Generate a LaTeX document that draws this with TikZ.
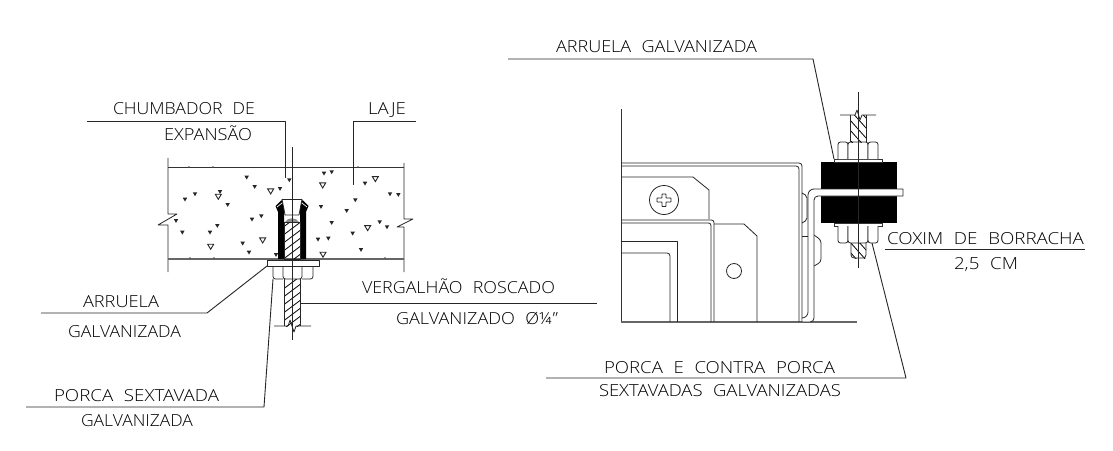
\documentclass[tikz,border=0pt]{standalone}
\usepackage{fontspec}
\usepackage{graphicx}
\setmainfont{Open Sans Light}[WordSpace=2.2]
\tikzset{
  lbl/.style={anchor=base west,inner sep=0pt,outer sep=0pt,text=black},
  leader/.style={line width=.9pt,draw=black!85,line join=round},
  part/.style={line width=.8pt,draw=black!85,line join=round},
  thin part/.style={line width=.6pt,draw=black!80},
  heavy/.style={line width=1.4pt,draw=black!60},
  hatchline/.style={line width=.8pt,draw=black}
}
\newcommand{\lb}[5]{% name, x0, x1, baseline, text
  \pgfmathsetmacro{\lbw}{#3-#2}
  \node[lbl] (#1) at (#2,#4) {\fontsize{16.6pt}{17pt}\selectfont\resizebox{\lbw pt}{\height}{#5}};}
\begin{document}
\begin{tikzpicture}[x=1pt,y=-1pt]
\useasboundingbox (0,0) rectangle (1113,450);
\fill[white] (0,0) rectangle (1113,450);

% ---------- LEFT: slab
\draw[part] (168,158) -- (168,214) -- (177,214) -- (158,225) -- (168,225) -- (168,272);
\draw[part] (404,163) -- (404,219) -- (413,219) -- (397,227) -- (404,227) -- (404,272);
\draw[thin part,line width=1pt] (168,167) -- (404,167);
\draw[heavy] (168,259) -- (404,259);
% aggregate
\foreach \x/\y in {320/262,344/290,420/296,448/270,552/250,575/246,675/280,135/328,165/312,240/305,263/344,108/392,127/427,210/427,232/407,308/460,327/487,336/388,364/378,408/494,543/350,646/330,620/362,575/398,534/448,565/445,638/430,719/396,741/411,663/479,750/312,775/314}
  \fill[black!85] ({140+\x/3-2.2},{90+\y/3-1.6}) -- ++(4.4,0) -- ++(-2.2,3.8) -- cycle;
\foreach \x/\y in {392/304,548/286,706/267,235/320,212/470,368/451,549/494,683/414}
  \draw[line width=.9pt,black!85] ({140+\x/3-3},{90+\y/3-2.4}) -- ++(6,0) -- ++(-3,5) -- cycle;
\foreach \x in {189,213,358} \fill[black!70] (\x,167) circle (.9);
\foreach \x in {190,214,385} \fill[black!70] (\x,258) circle (.9);

% anchor sleeve
\fill[black] (278,259) -- (278,212) -- (275.5,206) -- (281.5,200) -- (284,208) -- (284,259) -- cycle;
\fill[black] (306,259) -- (306,212) -- (308.5,206) -- (302.5,200) -- (300,208) -- (300,259) -- cycle;
\draw[white,line width=.7pt] (277,207) -- (282,203);
\draw[white,line width=.7pt] (307,207) -- (302,203);
\draw[part] (282,199) -- (302,199);
\draw[part] (282,199) -- (285,215) -- (299,215) -- (302,199);
% threaded rod inside
\begin{scope}
\clip (284,221) rectangle (300,259);
\foreach \k in {0,...,7} \draw[hatchline] (282,{228+\k*8}) -- (302,{213+\k*8});
\end{scope}
\fill[black!45] (285,222) .. controls (288,217) and (296,217) .. (299,222) -- cycle;
\draw[part] (284.5,222) rectangle (300,259);
% washer and nut
\draw[part,fill=white] (267,260) rectangle (319,266);
\draw[part] (273,266) [rounded corners=2.5pt] -- (273,279) [sharp corners] -- (283,279);
\draw[part,rounded corners=2.5pt] (283,266) -- (283,279) -- (302,279) -- (302,266);
\draw[part] (313,266) [rounded corners=2.5pt] -- (313,279) [sharp corners] -- (302,279);
% lower rod
\begin{scope}
\clip (284,279) rectangle (300,326);
\foreach \k in {0,...,7} \draw[hatchline] (282,{290+\k*8}) -- (302,{275+\k*8});
\end{scope}
\draw[part] (284,279) -- (284,326) (300,279) -- (300,326);
\draw[part] (274,326) -- (288,326) -- (290,320) -- (294,332) -- (296,326) -- (311,326);
% centre line
\draw[leader] (292,147) -- (292,340);

% ---------- RIGHT: equipment
\draw[thin part] (621,109) -- (621,322);
\draw[heavy] (621,322) -- (857,322);
\draw[part,rounded corners=3pt] (621,163) -- (802,163) -- (802,322);
\draw[part,rounded corners=3pt] (621,166) -- (799,166) -- (799,322);
\draw[part] (621,177) -- (693,177) -- (709,190) -- (709,219);
\draw[part,rounded corners=2.5pt] (621,220) -- (714,220) -- (714,322);
\draw[part,rounded corners=2.5pt] (621,223) -- (711,223) -- (711,322);
\draw[part] (714,224) -- (744,224) -- (757,236) -- (757,322);
\draw[part] (621,241) -- (677,241) -- (677,322);
\draw[part,rounded corners=3pt] (621,253) -- (670,253) -- (670,322);
\draw[part] (664,200) circle (14.5);
\draw[part,rounded corners=.5pt] (662,194) -- (666,194) -- (666,198) -- (671,198) -- (671,202) -- (666,202) -- (666,206.5) -- (662,206.5) -- (662,202) -- (657,202) -- (657,198) -- (662,198) -- cycle;
\draw[part] (734,271) circle (7.5);
% tabs
\draw[part,rounded corners=2pt] (802,193) -- (807,196) -- (807,220) -- (802,223);
\draw[part] (802,236) -- (808,236);
\draw[part,rounded corners=3pt] (814,235) -- (821,240) -- (821,262) -- (814,266);
% rubber
\fill[black] (821,162) rectangle (897,223);
% bracket
\draw[part,fill=white,rounded corners=4pt] (802.5,322) -- (814,322) -- (814,196) [sharp corners] -- (903,196) -- (903,189) [rounded corners=6pt] -- (808,189) -- (808,318) -- (802.5,318);
\fill[white] (809,197) rectangle (813,316);
\fill[white] (816,190.2) rectangle (902,194.8);
% upper parts
\draw[thin part,fill=white] (834,159) rectangle (882,162);
\draw[part,rounded corners=2.5pt,fill=white] (838,159) -- (838,142) -- (848,142) -- (848,159);
\draw[part,rounded corners=2.5pt,fill=white] (848,159) -- (848,142) -- (868,142) -- (868,159);
\draw[part,rounded corners=2.5pt,fill=white] (868,159) -- (868,142) -- (878,142) -- (878,159);
\begin{scope}
\clip (850,115) rectangle (866,142);
\foreach \k in {0,...,5} \draw[hatchline] (850,{100+\k*10}) -- (866,{118+\k*10});
\end{scope}
\draw[part] (850,115) -- (850,142) (866,115) -- (866,142);
\draw[part] (840,115) -- (855,115) -- (857,110) -- (860,120) -- (862,115) -- (876,115);
% lower parts
\draw[thin part,fill=white] (834,223) rectangle (882,226);
\draw[part,rounded corners=2.5pt,fill=white] (838,226) -- (838,243) -- (848,243) -- (848,226);
\draw[part,rounded corners=2.5pt,fill=white] (848,226) -- (848,243) -- (868,243) -- (868,226);
\draw[part,rounded corners=2.5pt,fill=white] (868,226) -- (868,243) -- (878,243) -- (878,226);
\begin{scope}
\clip (851,243) rectangle (866,258);
\foreach \k in {0,...,2} \draw[hatchline] (850,{232+\k*10}) -- (866,{250+\k*10});
\end{scope}
\draw[part,rounded corners=3pt] (851,243) -- (851,258) -- (866,258) -- (866,243);
% centre line
\draw[leader] (858,92) -- (858,268);

% ---------- Leaders
\coordinate (c1a) at (87,121);  \coordinate (c1b) at (285,121); \coordinate (c1c) at (285,178);
\draw[leader] (c1a) -- (c1b) -- (c1c);
\coordinate (l1) at (416,121);  \coordinate (l2) at (353,121);  \coordinate (l3) at (353,185);
\draw[leader] (l1) -- (l2) -- (l3);
\coordinate (a1) at (41,313);   \coordinate (a2) at (207,313);  \coordinate (a3) at (267,266);
\draw[leader] (a1) -- (a2) -- (a3);
\coordinate (p1) at (26,407);   \coordinate (p2) at (264,407);  \coordinate (p3) at (273,279);
\draw[leader] (p1) -- (p2) -- (p3);
\coordinate (v1) at (300,303);  \coordinate (v2) at (597,303);
\draw[leader] (v1) -- (v2);
\coordinate (ag1) at (508,59);  \coordinate (ag2) at (813,59);  \coordinate (ag3) at (834,159);
\draw[leader] (ag1) -- (ag2) -- (ag3);
\coordinate (cx1) at (885,249); \coordinate (cx2) at (1085,249);
\draw[leader] (cx1) -- (cx2);
\coordinate (pc1) at (546,378); \coordinate (pc2) at (906,378); \coordinate (pc3) at (872,243);
\draw[leader] (pc1) -- (pc2) -- (pc3);

% ---------- Labels
\lb{t1}{113}{255}{114}{CHUMBADOR DE}
\lb{t2}{164}{252}{140}{EXPANSÃO}
\lb{t3}{368}{406}{114}{LAJE}
\lb{t4}{83}{159}{307}{ARRUELA}
\lb{t5}{68}{181}{337}{GALVANIZADA}
\lb{t6}{54}{219}{401}{PORCA SEXTAVADA}
\lb{t7}{81}{193}{426}{GALVANIZADA}
\lb{t8}{362}{555}{293}{VERGALHÃO ROSCADO}
\lb{t9}{396}{558}{324}{GALVANIZADO Ø¼"}
\lb{t10}{556}{757}{52}{ARRUELA GALVANIZADA}
\lb{t11}{887}{1084}{244}{COXIM DE BORRACHA}
\lb{t12}{954}{1018}{269}{2,5 CM}
\lb{t13}{604}{835}{373}{PORCA E CONTRA PORCA}
\lb{t14}{599}{841}{396}{SEXTAVADAS GALVANIZADAS}
\end{tikzpicture}
\end{document}
